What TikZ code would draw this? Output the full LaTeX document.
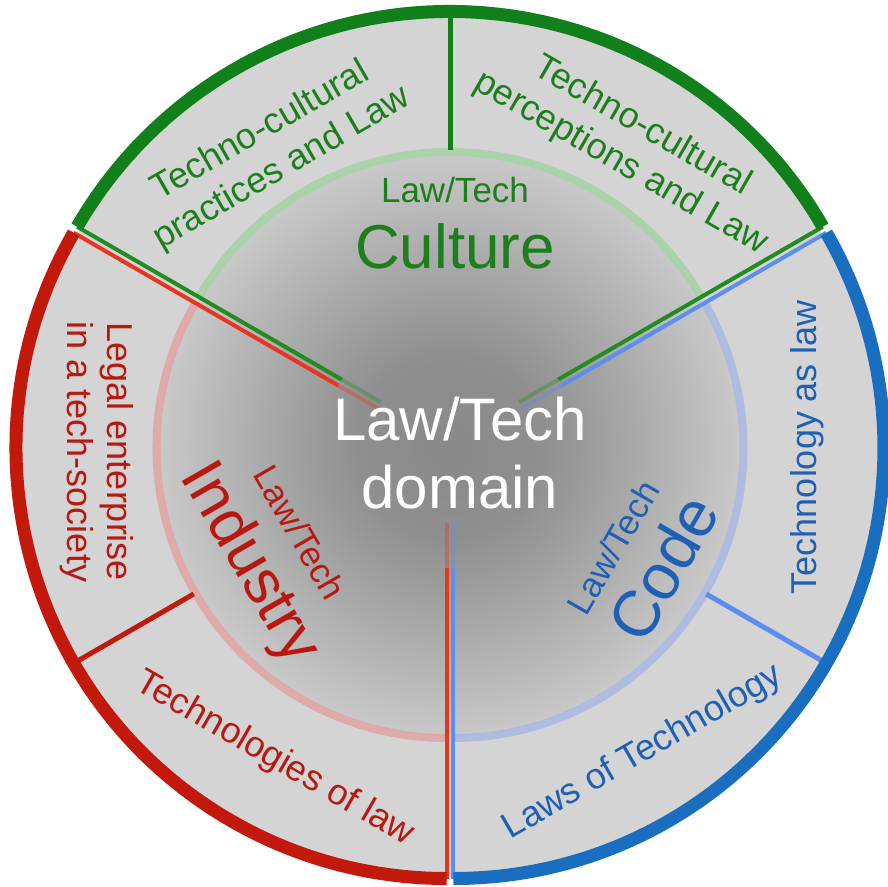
\documentclass[tikz,border=0pt]{standalone}
\usepackage{fontspec}
\setmainfont{Liberation Sans}
\definecolor{grnDark}{HTML}{12801A}
\definecolor{grnLine}{HTML}{228C22}
\definecolor{grnText}{HTML}{1C7F1C}
\definecolor{grnRing}{HTML}{A6D2A6}
\definecolor{redDark}{HTML}{C2190C}
\definecolor{redLine}{HTML}{E8351F}
\definecolor{redText}{HTML}{B81810}
\definecolor{redRing}{HTML}{E2A3A3}
\definecolor{bluDark}{HTML}{1A6EC0}
\definecolor{bluLine}{HTML}{5B8EF0}
\definecolor{bluText}{HTML}{1F60B5}
\definecolor{bluRing}{HTML}{A9B8E3}
\definecolor{ringGray}{HTML}{D4D4D4}
\definecolor{dA}{HTML}{898989}
\definecolor{dB}{HTML}{8F8F8F}
\definecolor{dC}{HTML}{A6A6A6}
\definecolor{dD}{HTML}{BEBEBE}
\definecolor{dE}{HTML}{C9C9C9}
\pgfdeclareradialshading{discshade}{\pgfpoint{0bp}{0bp}}{color(0bp)=(dA); color(8bp)=(dB); color(15bp)=(dC); color(22bp)=(dD); color(25bp)=(dE); color(50bp)=(dE)}
\begin{document}
\begin{tikzpicture}[x=1pt,y=1pt,
  border/.style={line width=13pt, line cap=butt},
  edgeline/.style={line width=4pt},
  midline/.style={line width=5pt},
  ringline/.style={line width=8pt, opacity=0.85},
  ringtxt/.style={inner sep=0pt, align=center, font=\fontsize{36}{43}\selectfont},
  smalltxt/.style={inner sep=0pt, font=\fontsize{35}{42}\selectfont},
  bigtxt/.style={inner sep=0pt, font=\fontsize{62}{70}\selectfont},
  centertxt/.style={inner sep=0pt, white, font=\fontsize{60}{70}\selectfont},
]
\useasboundingbox (0,0) rectangle (887,-887);
\fill[white] (0,0) rectangle (887,-887);
\begin{scope}[shift={(450,-446)}]
  \fill[ringGray] (0,0) circle (428);
  % sector wedges
  \begin{scope}[shift={(90:4)}]
    \fill[ringGray] (0,0) -- (30:430.5) arc[start angle=30,end angle=150,radius=430.5] -- cycle;
  \end{scope}
  \begin{scope}[shift={(210:4)}]
    \fill[ringGray] (0,0) -- (150:430.5) arc[start angle=150,end angle=270,radius=430.5] -- cycle;
  \end{scope}
  \begin{scope}[shift={(330:4)}]
    \fill[ringGray] (0,0) -- (-90:430.5) arc[start angle=-90,end angle=30,radius=430.5] -- cycle;
  \end{scope}
  % inner disc
  \shade[shading=discshade] (0,0) circle (290);
  % green sector
  \begin{scope}[shift={(90:4)}]
    \draw[ringline, grnRing] (30:290) arc[start angle=30,end angle=150,radius=290];
    \draw[edgeline, grnLine, opacity=0.35] (150:80) -- (150:125);
    \draw[edgeline, grnLine] (150:125) -- (150:430.5);
    \draw[edgeline, grnLine, opacity=0.35] (30:80) -- (30:125);
    \draw[edgeline, grnLine] (30:125) -- (30:430.5);
    \draw[midline, grnDark] (90:292) -- (90:430.5);
    \draw[border, grnDark] (30:430.5) arc[start angle=30,end angle=150,radius=430.5];
  \end{scope}
  % red sector
  \begin{scope}[shift={(210:4)}]
    \draw[ringline, redRing] (150:290) arc[start angle=150,end angle=270,radius=290];
    \draw[edgeline, redLine, opacity=0.35] (150:80) -- (150:125);
    \draw[edgeline, redLine] (150:125) -- (150:430.5);
    \draw[edgeline, redLine, opacity=0.35] (270:75) -- (270:120);
    \draw[edgeline, redLine] (270:120) -- (270:430.5);
    \draw[midline, redDark] (210:292) -- (210:430.5);
    \draw[border, redDark] (150:430.5) arc[start angle=150,end angle=270,radius=430.5];
  \end{scope}
  % blue sector
  \begin{scope}[shift={(330:4)}]
    \draw[ringline, bluRing] (-90:290) arc[start angle=-90,end angle=30,radius=290];
    \draw[edgeline, bluLine, opacity=0.35] (270:75) -- (270:120);
    \draw[edgeline, bluLine] (270:120) -- (270:430.5);
    \draw[edgeline, bluLine, opacity=0.35] (30:80) -- (30:125);
    \draw[edgeline, bluLine] (30:125) -- (30:430.5);
    \draw[midline, bluLine] (330:292) -- (330:430.5);
    \draw[border, bluDark] (-90:430.5) arc[start angle=-90,end angle=30,radius=430.5];
  \end{scope}
\end{scope}
% centre text
\node[centertxt, anchor=base] (c1) at (460,-440) {Law/Tech};
\node[centertxt, anchor=base] (c2) at (460,-508) {domain};
% culture
\node[smalltxt, grnText, anchor=base] (cultlt) at (455,-202) {Law/Tech};
\node[bigtxt, grnText, anchor=base] (cult) at (455,-268) {Culture};
% industry
\node[smalltxt, redText, rotate=-60] (indlt) at (300,-532.5) {Law/Tech};
\node[bigtxt, redText, rotate=-60] (ind) at (249,-564) {Industry};
% code
\node[smalltxt, bluText, rotate=60] (codelt) at (613,-547) {Law/Tech};
\node[inner sep=0pt, bluText, rotate=60, font=\fontsize{65}{72}\selectfont] (code) at (663,-568) {Code};
% outer ring texts
\node[ringtxt, grnText, rotate=30] (prac) at (271.5,-149.8) {Techno-cultural\\practices and Law};
\node[ringtxt, grnText, rotate=-30] (perc) at (631.6,-144.8) {Techno-cultural\\perceptions and Law};
\node[ringtxt, redText, rotate=-90, font=\fontsize{36}{40}\selectfont] (legal) at (96.5,-452) {Legal enterprise\\in a tech-society};
\node[ringtxt, redText, rotate=-30] (tol) at (274.6,-758.6) {Technologies of law};
\node[ringtxt, bluText, rotate=30] (lot) at (643,-752) {Laws of Technology};
\node[ringtxt, bluText, rotate=90] (tal) at (807,-447) {Technology as law};
\end{tikzpicture}
\end{document}
